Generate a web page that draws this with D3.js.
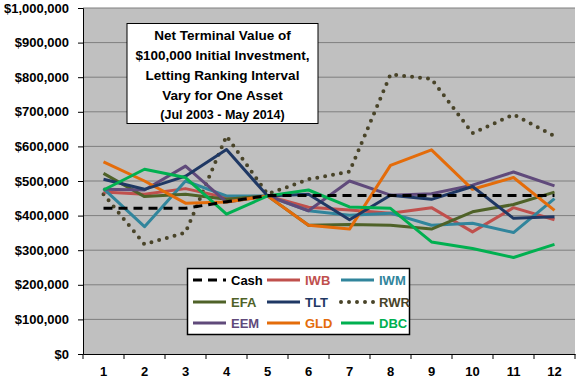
<!DOCTYPE html>
<html><head><meta charset="utf-8">
<script src="https://cdn.jsdelivr.net/npm/d3@7"></script>
<style>body{margin:0;background:#fff}svg{display:block}text{font-family:"Liberation Sans",Arial,sans-serif;font-weight:bold}</style>
</head><body><svg id="c" width="576" height="384"></svg>
<script>
const categories = [1,2,3,4,5,6,7,8,9,10,11,12];
const yTicks = [0,100000,200000,300000,400000,500000,600000,700000,800000,900000,1000000];
const cash = [421000,421000,421000,440000,458000,458000,458000,458000,458000,458000,458000,458000];
const iwb  = [468000,462000,478000,452000,457000,424000,416000,407000,423000,353000,423000,388000];
const iwm  = [478000,368000,500000,457000,457000,414000,401000,407000,372000,378000,351000,449000];
const efa  = [522000,455000,462000,447000,457000,372000,374000,372000,361000,411000,432000,468000];
const tlt  = [505000,476000,514000,591000,457000,462000,388000,459000,447000,484000,392000,397000];
const rwr  = [462000,317000,351000,630000,462000,505000,527000,808000,795000,638000,692000,630000];
const eem  = [476000,474000,543000,439000,457000,414000,500000,459000,463000,488000,526000,486000];
const gld  = [555000,500000,436000,439000,457000,372000,361000,545000,590000,476000,510000,415000];
const dbc  = [474000,534000,510000,404000,457000,474000,425000,421000,324000,305000,279000,317000];
const seriesNames = ["Cash","IWB","IWM","EFA","TLT","RWR","EEM","GLD","DBC"];
const seriesValues = [cash,iwb,iwm,efa,tlt,rwr,eem,gld,dbc];
const seriesColors = ["#000000","#C0504D","#31859C","#4F6228","#1F3864","#494429","#604A7B","#E46C0A","#00B050"];
const titleLines = ["Net Terminal Value of","$100,000 Initial Investment,","Letting Ranking Interval","Vary for One Asset","(Jul 2003  - May 2014)"];

const svg = d3.select("#c");
const L=83, R=575, T=8, B=354;
const x = d3.scaleBand().domain(categories).range([L,R]);
const y = d3.scaleLinear().domain([0,1000000]).range([B,T]);

svg.append("rect").attr("x",L).attr("y",T).attr("width",R-L).attr("height",B-T).attr("fill","#C0C0C0");
svg.append("g").selectAll("line").data(yTicks.slice(1)).join("line")
  .attr("x1",L).attr("x2",R).attr("y1",d=>y(d)).attr("y2",d=>y(d))
  .attr("stroke","#7f7f7f").attr("stroke-width",1);

const fmt = d=>"$"+d3.format(",")(d);
const ya = svg.append("g").attr("transform",`translate(${L},0)`)
  .call(d3.axisLeft(y).tickValues(yTicks).tickFormat(fmt).tickSize(5).tickPadding(9));
ya.select(".domain").attr("stroke","#000").attr("stroke-width",1);
ya.selectAll("text").style("font-size","13px").attr("fill","#000");
ya.selectAll(".tick line").attr("stroke","#000");

const xa = svg.append("g").attr("transform",`translate(0,${B})`)
  .call(d3.axisBottom(x).tickSize(0).tickPadding(13));
xa.select(".domain").attr("stroke","#000");
xa.selectAll("text").style("font-size","13px").attr("fill","#000");
xa.append("g").selectAll("line").data(categories.concat([13])).join("line")
  .attr("x1",(d,i)=>L+i*x.step()).attr("x2",(d,i)=>L+i*x.step())
  .attr("y1",0).attr("y2",5).attr("stroke","#000");

const line = d3.line().x((d,i)=>x(categories[i])+x.bandwidth()/2).y(d=>y(d));
function styl(sel,i){
  sel.attr("stroke",seriesColors[i]).attr("fill","none");
  if(i===0) sel.attr("stroke-width",3).attr("stroke-dasharray","9 6");
  else if(i===5) sel.attr("stroke-width",4).attr("stroke-dasharray","0 8").attr("stroke-linecap","round");
  else sel.attr("stroke-width",3).attr("stroke-linejoin","round");
}
const order=[5,1,2,3,6,7,4,8,0];
order.forEach(i=>{
  svg.append("path").datum(seriesValues[i]).attr("d",line).call(s=>styl(s,i));
});

// title box
const tb = svg.append("g");
tb.append("rect").attr("x",127).attr("y",23.5).attr("width",191).attr("height",100).attr("fill","#fff").attr("stroke","#000").attr("stroke-width",1);
const ty=[40,60,80,100,119];
titleLines.forEach((t,i)=>{
  tb.append("text").attr("x",222.5).attr("y",ty[i]).attr("text-anchor","middle")
    .style("font-size",i===4?"12.5px":"13.5px").text(t);
});

// legend
const lg = svg.append("g");
lg.append("rect").attr("x",187.5).attr("y",268.5).attr("width",222).attr("height",66).attr("fill","#fff").attr("stroke","#000").attr("stroke-width",1.5);
const colX=[193,267,341], rowY=[280,302,323];
seriesNames.forEach((n,i)=>{
  const cx=colX[i%3], cy=rowY[Math.floor(i/3)];
  const p = lg.append("path").attr("d",`M${cx},${cy}L${cx+33},${cy}`);
  styl(p,i);
  lg.append("text").attr("x",cx+38).attr("y",cy+4.5).style("font-size","13px").attr("fill",seriesColors[i]).text(n);
});
</script></body></html>
